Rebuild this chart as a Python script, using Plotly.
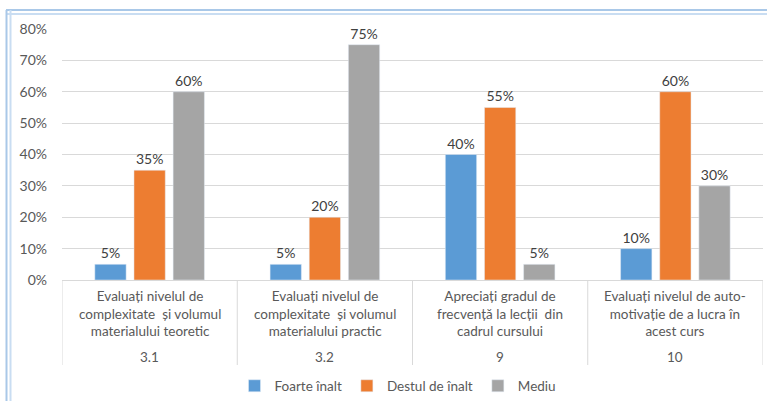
import plotly.graph_objects as go

codes = ["3.1", "3.2", "9", "10"]
questions = [
    "Evaluați nivelul de<br>complexitate  și volumul<br>materialului teoretic",
    "Evaluați nivelul de<br>complexitate  și volumul<br>materialului practic",
    "Apreciați gradul de<br>frecvență la lecții  din<br>cadrul cursului",
    "Evaluați nivelul de auto-<br>motivație de a lucra în<br>acest curs",
]
series_names = ["Foarte înalt", "Destul de înalt", "Mediu"]
foarte_inalt = [0.05, 0.05, 0.40, 0.10]
destul_de_inalt = [0.35, 0.20, 0.55, 0.60]
mediu = [0.60, 0.75, 0.05, 0.30]
colors = ["#5B9BD5", "#ED7D31", "#A5A5A5"]

W, H = 767, 401
ML, MR, MT, MB = 62, 4, 29, 121
PW, PH = W - ML - MR, H - MT - MB

def px_x(px):
    return (px - ML) / PW

def px_y(py):
    return (H - MB - py) / PH

FONT = "Lato"
fig = go.Figure()
for name, vals, col in zip(series_names, [foarte_inalt, destul_de_inalt, mediu], colors):
    fig.add_trace(go.Bar(
        x=codes, y=vals, name=name, marker_color=col,
        texttemplate="%{y:.0%}", textposition="outside", cliponaxis=False,
        textfont=dict(family=FONT, size=14, color="#404040"),
    ))

shapes = []
# category dividers
for i in range(len(codes) + 1):
    shapes.append(dict(type="line", xref="x", yref="paper", x0=i - 0.5, x1=i - 0.5,
                       y0=0, y1=px_y(365), line=dict(color="#D9D9D9", width=1)))
# frame border (decoration)
for py, col in [(10, "#A9C8E8"), (14, "#C9DDF2")]:
    shapes.append(dict(type="line", xref="paper", yref="paper", x0=px_x(6), x1=px_x(W),
                       y0=px_y(py), y1=px_y(py), line=dict(color=col, width=2)))
for pxv, col in [(6.5, "#A9C8E8"), (10.5, "#C9DDF2")]:
    shapes.append(dict(type="line", xref="paper", yref="paper", x0=px_x(pxv), x1=px_x(pxv),
                       y0=px_y(10), y1=px_y(H), line=dict(color=col, width=2)))

annotations = []
for i, (c, q) in enumerate(zip(codes, questions)):
    annotations.append(dict(x=i, xref="x", y=px_y(314), yref="paper", text=q, showarrow=False,
                            yanchor="middle", xanchor="center",
                            font=dict(family=FONT, size=13.5, color="#595959")))
    annotations.append(dict(x=i, xref="x", y=px_y(357), yref="paper", text=c, showarrow=False,
                            yanchor="middle", xanchor="center",
                            font=dict(family=FONT, size=13.5, color="#595959")))

fig.update_layout(
    width=W, height=H,
    margin=dict(l=ML, r=MR, t=MT, b=MB, pad=0, autoexpand=False),
    paper_bgcolor="white", plot_bgcolor="white",
    barmode="group", bargap=0.33, bargroupgap=0.2,
    font=dict(family=FONT, size=13, color="#595959"),
    xaxis=dict(type="category", showticklabels=False, showline=True, linecolor="#D9D9D9",
               showgrid=False, ticks="", range=[-0.5, 3.5], automargin=False),
    yaxis=dict(range=[0, 0.8], dtick=0.1, tickformat=".0%", showgrid=True,
               gridcolor="#D9D9D9", gridwidth=1, zeroline=False, ticks="", automargin=False,
               tickfont=dict(family=FONT, size=14, color="#595959"), ticklabelstandoff=14),
    legend=dict(orientation="h", x=px_x(398), xanchor="center", y=px_y(386), yanchor="middle",
                font=dict(family=FONT, size=13.5, color="#595959"), itemwidth=30,
                bgcolor="rgba(0,0,0,0)"),
    shapes=shapes, annotations=annotations,
    showlegend=True,
)
fig.write_html("out.html", config={"displayModeBar": False},
               post_script="document.body.style.margin='0px';")
